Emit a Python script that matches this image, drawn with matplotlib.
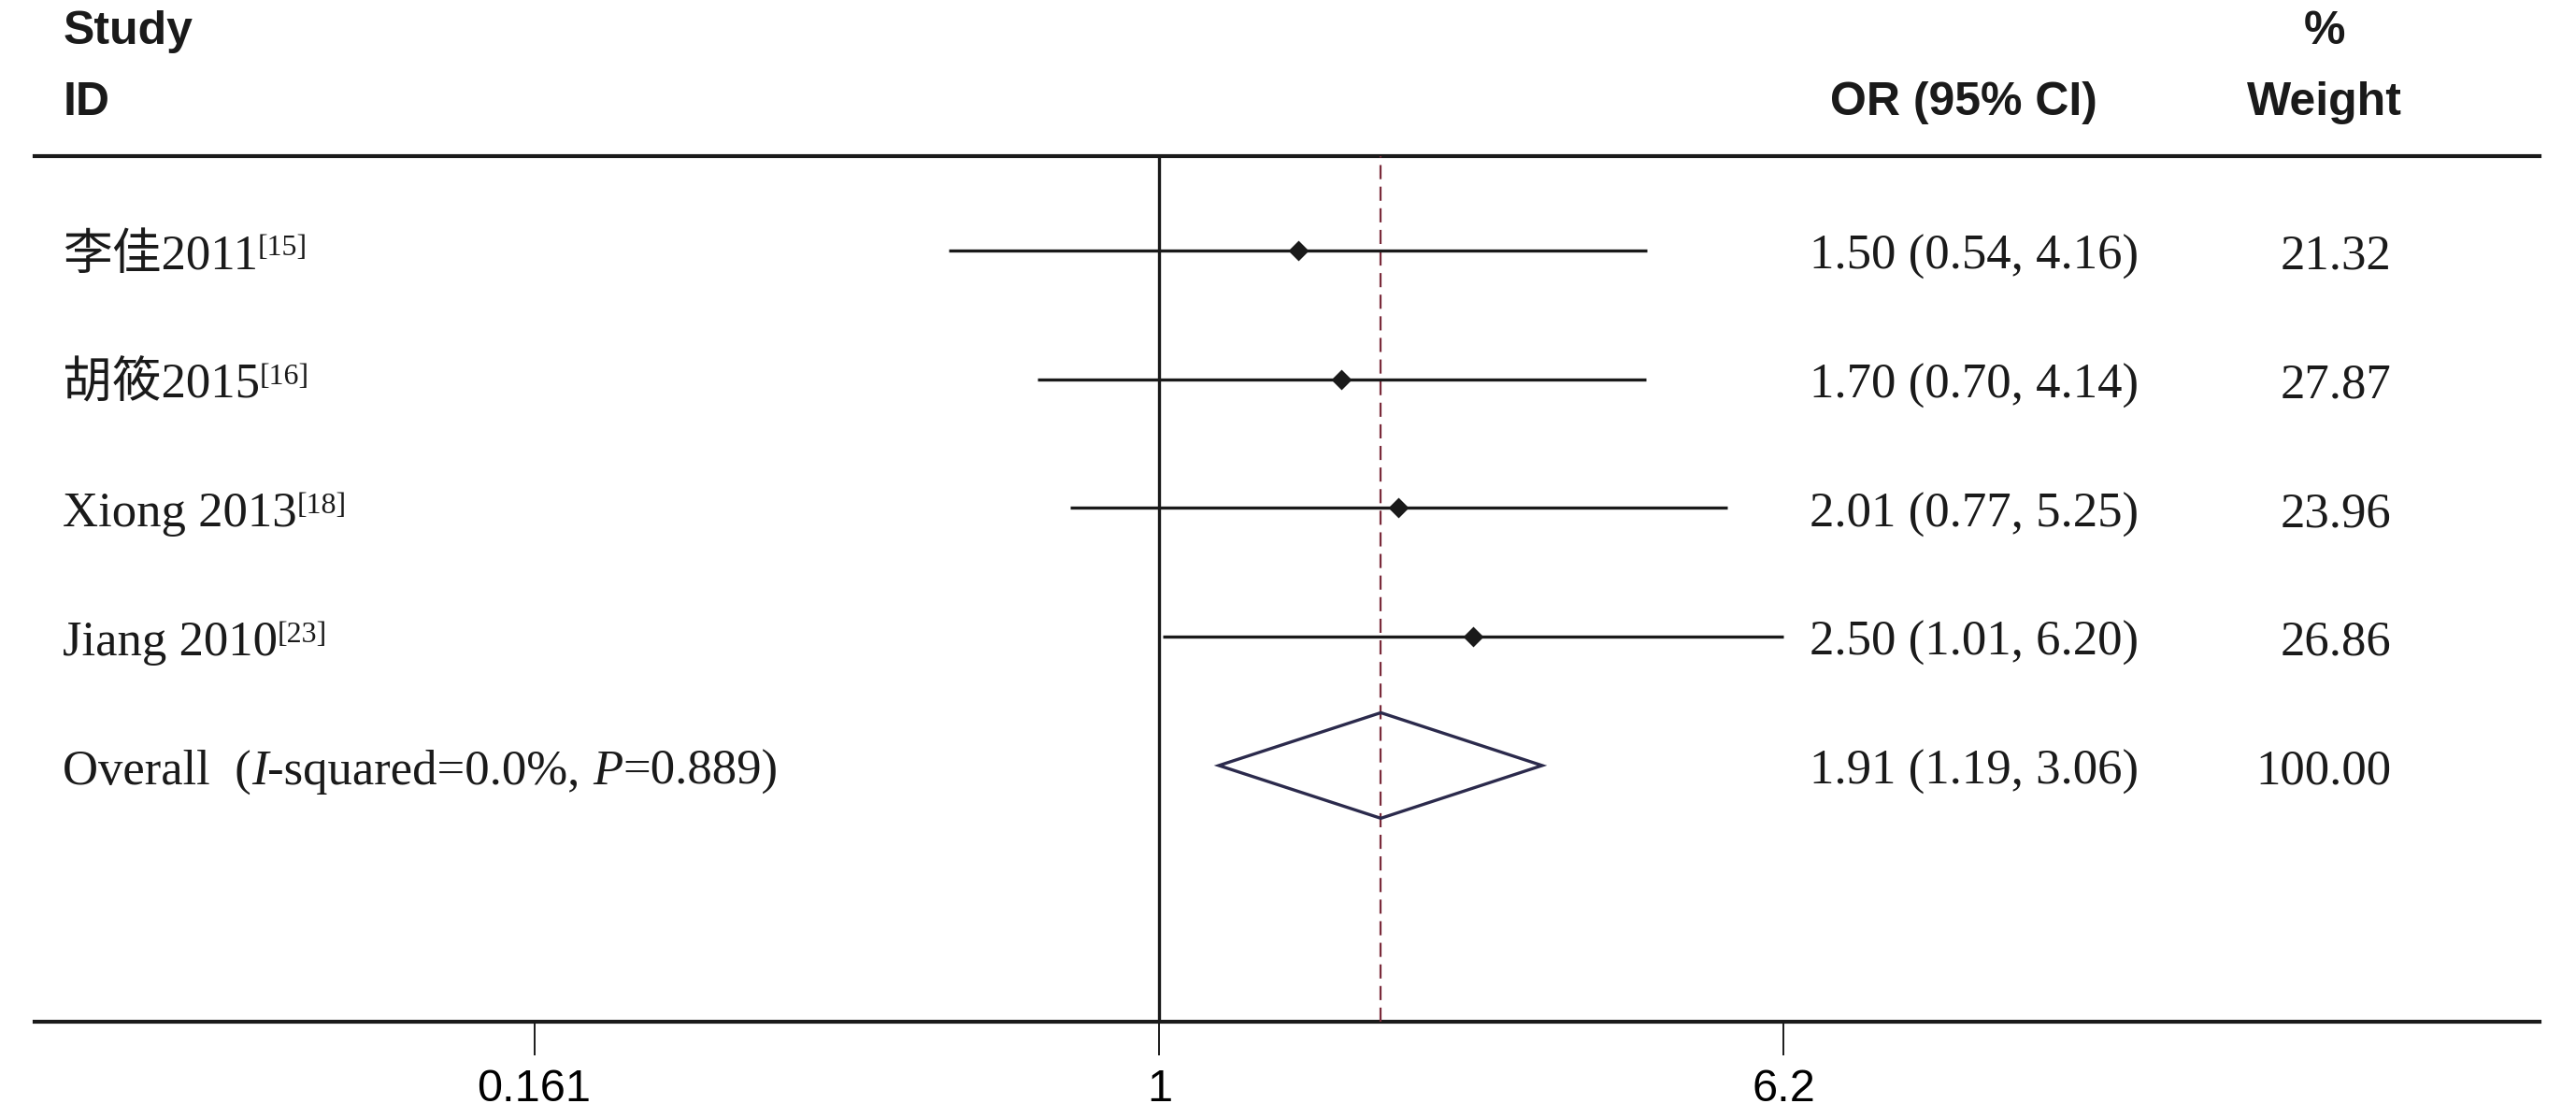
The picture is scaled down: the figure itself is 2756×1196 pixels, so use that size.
import matplotlib

matplotlib.use("Agg", force=True)
import matplotlib.pyplot as plt
import numpy as np
from matplotlib.patches import Polygon
from matplotlib.ticker import FixedLocator, FixedFormatter, NullLocator
from matplotlib.transforms import offset_copy

# data
studies = ["李佳2011", "胡筱2015", "Xiong 2013", "Jiang 2010"]
refs = ["[15]", "[16]", "[18]", "[23]"]
or_vals = [1.50, 1.70, 2.01, 2.50]
ci_low = [0.54, 0.70, 0.77, 1.01]
ci_high = [4.16, 4.14, 5.25, 6.20]
weights = [21.32, 27.87, 23.96, 26.86]
pooled, pooled_low, pooled_high = 1.91, 1.19, 3.06
pooled_weight = 100.00
i_squared, p_het = 0.0, 0.889
xticks = [0.161, 1, 6.2]
xtick_labels = ["0.161", "1", "6.2"]

W, H, DPI = 2756, 1196, 200
SERIF = ["Liberation Serif", "Noto Sans CJK SC"]
SANS = ["Liberation Sans Narrow", "Liberation Sans"]
FS = 19
BASE_DY = -(0.338 * FS + 0.7)  # points, puts digit centres on the row

fig = plt.figure(figsize=(W / DPI, H / DPI), dpi=DPI)
left, right, top, bottom = 37, 2717, 167, 1093
ax = fig.add_axes([left / W, 1 - bottom / H, (right - left) / W, (bottom - top) / H])

ax.set_xscale("log")
ax.set_xlim(0.0374, 56.4)
ax.set_ylim(6.99, 0.267)

for s in ("left", "right"):
    ax.spines[s].set_visible(False)
for s in ("top", "bottom"):
    ax.spines[s].set_linewidth(1.5)
    ax.spines[s].set_color("#1a1a1a")
ax.yaxis.set_visible(False)
ax.xaxis.set_major_locator(FixedLocator(xticks))
ax.xaxis.set_major_formatter(FixedFormatter(xtick_labels))
ax.xaxis.set_minor_locator(NullLocator())
ax.tick_params(axis="x", length=13, width=0.7, pad=5, labelsize=17.5, color="#1a1a1a")
for lab in ax.get_xticklabels():
    lab.set_family(SANS)

rows = np.arange(1, len(studies) + 1)
ax.axvline(1, color="#1a1a1a", lw=1.2, zorder=2)
ax.axvline(pooled, color="#7a2a3a", lw=0.8, dashes=(6.8, 3.6), zorder=3)

ax.hlines(rows, ci_low, ci_high, color="#1a1a1a", lw=1.2, zorder=4)
ax.plot(or_vals, rows, ls="none", marker="D", ms=4.8, color="#1a1a1a", zorder=5)

yo = len(studies) + 1
h = 0.41
diamond = Polygon([(pooled_low, yo), (pooled, yo - h), (pooled_high, yo), (pooled, yo + h)],
                  closed=True, fill=False, edgecolor="#2b2a4c", lw=1.2, zorder=5)
ax.add_patch(diamond)

renderer = fig.canvas.get_renderer()
ytr = ax.get_yaxis_transform()


def xf(px):
    return (px - left) / (right - left)


def pieces_text(x_px, y, pieces, size=FS):
    xoff = 0.0
    for s, kw in pieces:
        dy = kw.pop("dy", 0.0)
        fs = kw.pop("size", size)
        tr = offset_copy(ytr, fig=fig, x=xoff, y=(BASE_DY + dy) * DPI / 72, units="dots")
        t = ax.text(xf(x_px), y, s, transform=tr, va="baseline", ha="left",
                    fontsize=fs, family=SERIF, color="#1a1a1a", **kw)
        xoff += t.get_window_extent(renderer).width


for r, name, ref, o, lo, hi, w in zip(rows, studies, refs, or_vals, ci_low, ci_high, weights):
    pieces_text(67, r, [(name, {}), (ref, {"size": 11.5, "dy": 5.2})])
    pieces_text(1936, r, [(f"{o:.2f} ({lo:.2f}, {hi:.2f})", {})])
    tr = offset_copy(ytr, fig=fig, y=BASE_DY, units="points")
    ax.text(xf(2558), r, f"{w:.2f}", transform=tr, va="baseline", ha="right",
            fontsize=FS, family=SERIF, color="#1a1a1a")

pieces_text(67, yo, [
    ("Overall  (", {}),
    ("I", {"style": "italic"}),
    (f"-squared={i_squared:.1f}%, ", {}),
    ("P", {"style": "italic"}),
    (f"={p_het:.3f})", {}),
])
pieces_text(1936, yo, [(f"{pooled:.2f} ({pooled_low:.2f}, {pooled_high:.2f})", {})])
tr = offset_copy(ytr, fig=fig, y=BASE_DY, units="points")
ax.text(xf(2558), yo, f"{pooled_weight:.2f}", transform=tr, va="baseline", ha="right",
        fontsize=FS, family=SERIF, color="#1a1a1a")

# header
hdr = dict(fontsize=18, family=SANS, weight="bold", color="#1a1a1a", va="center")
y_top = 1 + (34 - 268) / 137.8
y_mid = 1 + (110 - 268) / 137.8
ax.text(xf(68), y_top, "Study", transform=ytr, ha="left", **hdr)
ax.text(xf(68), y_mid, "ID", transform=ytr, ha="left", **hdr)
ax.text(xf(2244), y_mid, "OR (95% CI)", transform=ytr, ha="right", **hdr)
ax.text(xf(2487), y_top, "%", transform=ytr, ha="center", **hdr)
ax.text(xf(2487), y_mid, "Weight", transform=ytr, ha="center", **hdr)

fig.savefig("out.png", dpi=DPI)
